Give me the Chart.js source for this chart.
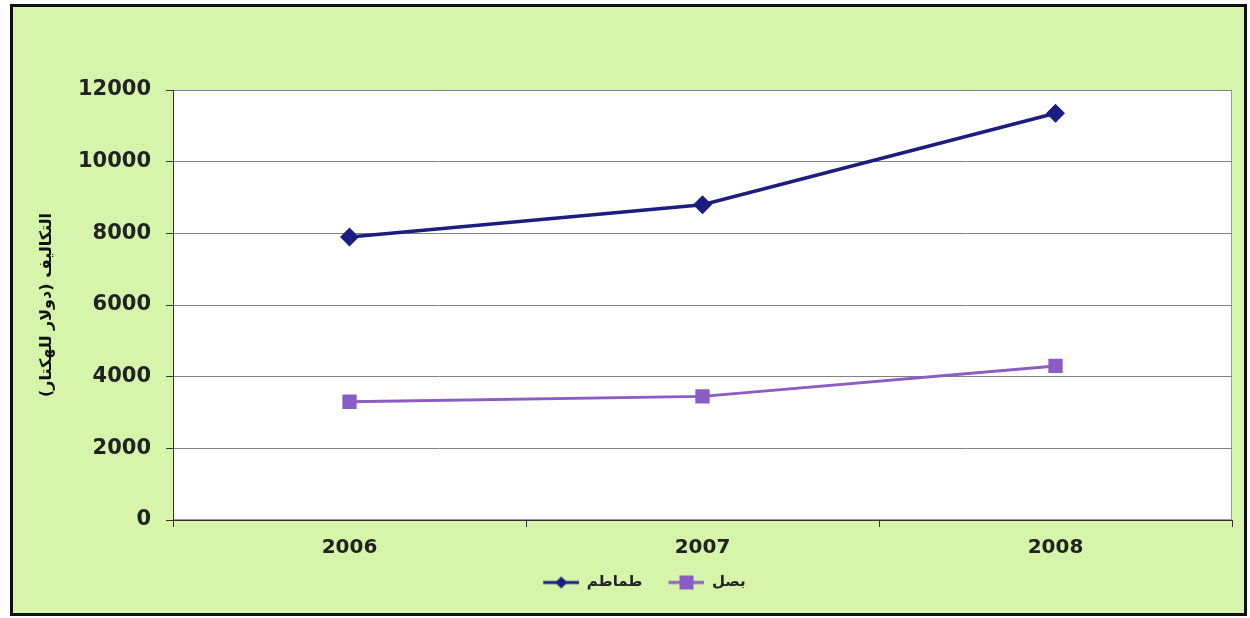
<!DOCTYPE html>
<html>
<head>
<meta charset="utf-8">
<script src="https://cdn.jsdelivr.net/npm/chart.js@4"></script>
<style>
  body { margin: 0; background: #fff; }
  #frame {
    position: absolute; left: 10px; top: 4px; width: 1237px; height: 612px;
    box-sizing: border-box; border: 3px solid #111; background: #d6f4aa;
  }
  #chart { position: absolute; left: 0; top: 0; }
</style>
</head>
<body>
<div id="frame"></div>
<canvas id="chart" width="1250" height="618"></canvas>
<script>
// Data
const years = ["2006", "2007", "2008"];
const tomato = [7900, 8800, 11350];
const onion = [3300, 3450, 4300];
const yTicks = [0, 2000, 4000, 6000, 8000, 10000, 12000];
const yTitle = "\u200Fالتكاليف (دولار للهكتار)\u200F";

const tomatoColor = "#1b1e7e";
const onionColor = "#8b5cc4";

// Legend icon: short line with the marker in the middle (blank lead gives the gap between items)
function legendIcon(color, shape) {
  const c = document.createElement("canvas");
  c.width = 56; c.height = 16;
  const g = c.getContext("2d");
  g.strokeStyle = color; g.lineWidth = 3;
  g.beginPath(); g.moveTo(20, 8); g.lineTo(56, 8); g.stroke();
  g.fillStyle = color;
  if (shape === "diamond") {
    g.beginPath(); g.moveTo(38, 2); g.lineTo(44, 8); g.lineTo(38, 14); g.lineTo(32, 8); g.closePath(); g.fill();
  } else {
    g.fillRect(31, 1, 14, 14);
  }
  return c;
}
const icons = [legendIcon(tomatoColor, "diamond"), legendIcon(onionColor, "square")];

// Plot area white fill + grey border
const plotBg = {
  id: "plotBg",
  beforeDraw(chart) {
    const { ctx, chartArea: a } = chart;
    ctx.save();
    ctx.fillStyle = "#fff";
    ctx.fillRect(a.left, a.top, a.width, a.height);
    ctx.strokeStyle = "#999";
    ctx.lineWidth = 1;
    ctx.strokeRect(a.left + 0.5, a.top + 0.5, a.width - 1, a.height - 1);
    ctx.restore();
  }
};

new Chart(document.getElementById("chart"), {
  type: "line",
  data: {
    labels: years,
    datasets: [{
      label: "طماطم",
      data: tomato,
      borderColor: tomatoColor,
      backgroundColor: tomatoColor,
      borderWidth: 3.5,
      pointStyle: "rectRot",
      pointRadius: 7,
      tension: 0
    }, {
      label: "بصل",
      data: onion,
      borderColor: onionColor,
      backgroundColor: onionColor,
      borderWidth: 3,
      pointStyle: "rect",
      pointRadius: 8,
      tension: 0
    }]
  },
  options: {
    responsive: false,
    animation: false,
    layout: { padding: { left: 37, top: 90, right: 18, bottom: 18 } },
    plugins: {
      tooltip: { enabled: false },
      legend: {
        position: "bottom",
        labels: {
          usePointStyle: true,
          pointStyleWidth: 56,
          padding: 6,
          color: "#222",
          font: { family: "DejaVu Sans", size: 15, weight: "bold" },
          generateLabels(chart) {
            const items = Chart.defaults.plugins.legend.labels.generateLabels(chart);
            items.forEach((it, i) => { it.pointStyle = icons[i]; });
            return items;
          }
        }
      }
    },
    scales: {
      x: {
        offset: true,
        grid: { offset: true, drawOnChartArea: false, tickLength: 7, tickColor: "#333" },
        border: { color: "#333" },
        ticks: { color: "#222", font: { family: "DejaVu Sans", size: 20, weight: "bold" }, padding: 9 }
      },
      y: {
        min: 0,
        max: 12000,
        afterBuildTicks: s => { s.ticks = yTicks.map(v => ({ value: v })); },
        afterFit: s => { s.width = 173 - 37; },
        grid: { color: "#808080", tickLength: 7, tickColor: "#333" },
        border: { color: "#333" },
        ticks: { color: "#222", font: { family: "DejaVu Sans", size: 21, weight: "bold" }, padding: 15, callback: v => String(v) },
        title: {
          display: true,
          text: yTitle,
          color: "#111",
          padding: 0,
          font: { family: "DejaVu Sans", size: 16, weight: "bold" }
        }
      }
    }
  },
  plugins: [plotBg]
});
</script>
</body>
</html>
